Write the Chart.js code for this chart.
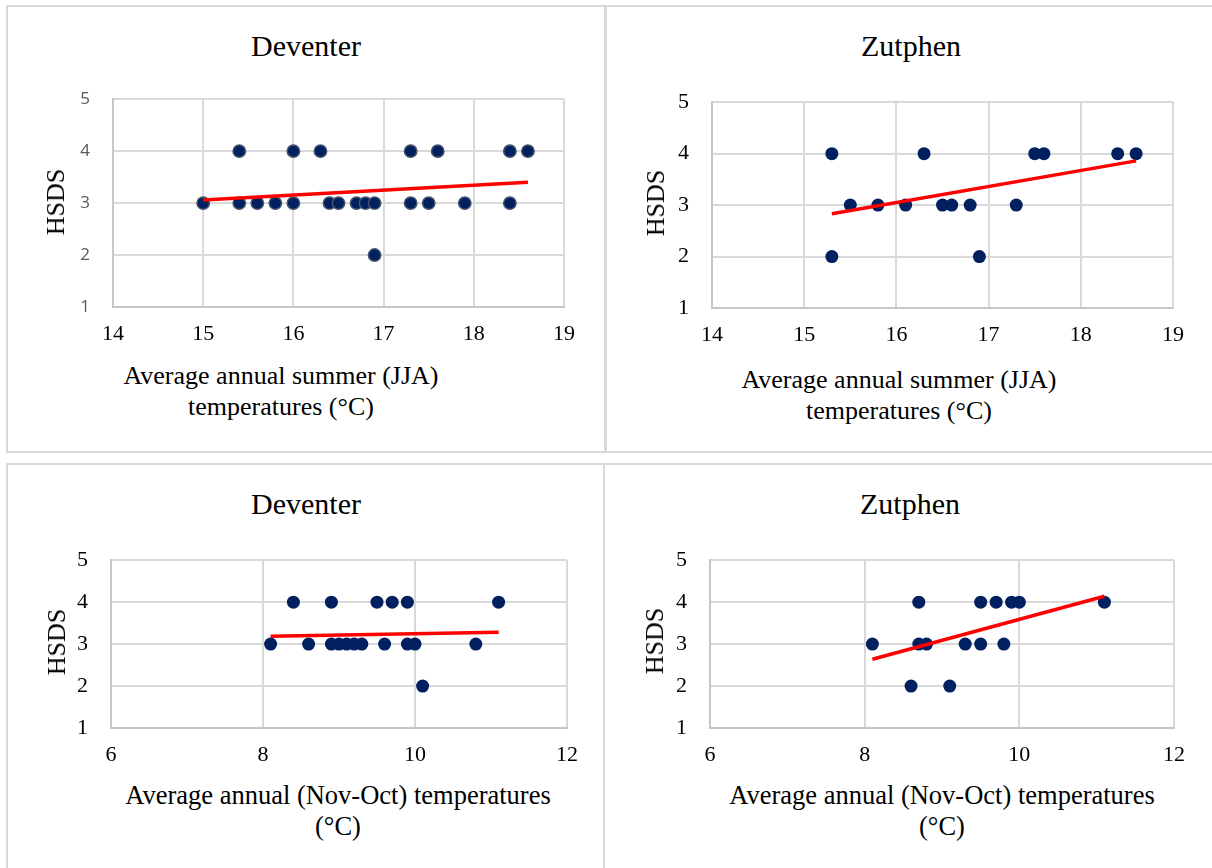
<!DOCTYPE html>
<html>
<head>
<meta charset="utf-8">
<script src="https://cdn.jsdelivr.net/npm/chart.js@4.4.1/dist/chart.umd.min.js"></script>
<style>
  body { margin: 0; background: #fff; width: 1212px; height: 868px; overflow: hidden; position: relative;
         font-family: "Liberation Serif", "Times New Roman", serif; }
  .panel { position: absolute; border: 2px solid #d9d9d9; box-sizing: border-box; }
  canvas { position: absolute; }
  .t { position: absolute; white-space: nowrap; color: #000; line-height: 1; transform: translate(-50%, -50%); }
  .title { font-size: 30px; }
  .xt { font-size: 26px; line-height: 31px; text-align: center; }
  .xt2 { font-size: 26.5px; line-height: 31px; text-align: center; }
  .yt { font-size: 26px; transform: translate(-50%, -50%) rotate(-90deg); }
</style>
</head>
<body>

<div class="panel" style="left:6px;top:5px;width:600px;height:448px"></div>
<div class="panel" style="left:605px;top:5px;width:620px;height:448px"></div>
<div class="panel" style="left:6px;top:463px;width:599px;height:420px"></div>
<div class="panel" style="left:603px;top:463px;width:620px;height:420px"></div>

<canvas id="c1"></canvas>
<canvas id="c2"></canvas>
<canvas id="c3"></canvas>
<canvas id="c4"></canvas>

<div class="t title" style="left:306px;top:46px">Deventer</div>
<div class="t title" style="left:911px;top:46px">Zutphen</div>
<div class="t title" style="left:306px;top:504px">Deventer</div>
<div class="t title" style="left:910px;top:504px">Zutphen</div>

<div class="t yt" style="left:56px;top:202px">HSDS</div>
<div class="t yt" style="left:656px;top:203px">HSDS</div>
<div class="t yt" style="left:57px;top:642px">HSDS</div>
<div class="t yt" style="left:655px;top:641px">HSDS</div>

<div class="t xt" style="left:281px;top:391px">Average annual summer (JJA)<br>temperatures (°C)</div>
<div class="t xt" style="left:899px;top:395px">Average annual summer (JJA)<br>temperatures (°C)</div>
<div class="t xt2" style="left:338px;top:811px">Average annual (Nov-Oct) temperatures<br>(°C)</div>
<div class="t xt2" style="left:942px;top:811px">Average annual (Nov-Oct) temperatures<br>(°C)</div>

<script>
// Deventer, summer (JJA) temperature vs HSDS
const devSummerTemp = [15.4, 16.0, 16.3, 17.3, 17.6, 18.4, 18.6,
  15.0, 15.4, 15.6, 15.8, 16.0, 16.4, 16.5, 16.7, 16.8, 16.9, 17.3, 17.5, 17.9, 18.4,
  16.9];
const devSummerHsds = [4, 4, 4, 4, 4, 4, 4,
  3, 3, 3, 3, 3, 3, 3, 3, 3, 3, 3, 3, 3, 3,
  2];
const devSummerTrendX = [15.0, 18.6];
const devSummerTrendY = [3.06, 3.40];

// Zutphen, summer (JJA)
const zutSummerTemp = [15.3, 16.3, 17.5, 17.6, 18.4, 18.6,
  15.5, 15.8, 16.1, 16.5, 16.6, 16.8, 17.3,
  15.3, 16.9];
const zutSummerHsds = [4, 4, 4, 4, 4, 4,
  3, 3, 3, 3, 3, 3, 3,
  2, 2];
const zutSummerTrendX = [15.3, 18.6];
const zutSummerTrendY = [2.83, 3.86];

// Deventer, annual (Nov-Oct)
const devAnnualTemp = [8.4, 8.9, 9.5, 9.7, 9.9, 11.1,
  8.1, 8.6, 8.9, 9.0, 9.1, 9.2, 9.3, 9.6, 9.9, 10.0, 10.8,
  10.1];
const devAnnualHsds = [4, 4, 4, 4, 4, 4,
  3, 3, 3, 3, 3, 3, 3, 3, 3, 3, 3,
  2];
const devAnnualTrendX = [8.1, 11.1];
const devAnnualTrendY = [3.19, 3.28];

// Zutphen, annual (Nov-Oct)
const zutAnnualTemp = [8.7, 9.5, 9.7, 9.9, 10.0, 11.1,
  8.1, 8.7, 8.8, 9.3, 9.5, 9.8,
  8.6, 9.1];
const zutAnnualHsds = [4, 4, 4, 4, 4, 4,
  3, 3, 3, 3, 3, 3,
  2, 2];
const zutAnnualTrendX = [8.1, 11.1];
const zutAnnualTrendY = [2.64, 4.14];

const hsdsTicks = [1, 2, 3, 4, 5];
const summerTicks = [14, 15, 16, 17, 18, 19];
const annualTicks = [6, 8, 10, 12];

const navy = "#002060";

Chart.defaults.font.family = "'Liberation Serif', 'Times New Roman', serif";
Chart.defaults.font.size = 22;
Chart.defaults.color = "#000";

function pairs(xs, ys) {
  return xs.map((x, i) => ({ x: x, y: ys[i] }));
}

function drawPanel(id, rect, xTicks, temps, hsds, trendX, trendY, look) {
  const padL = 90, padT = 30, padR = 30, padB = 50;
  const cv = document.getElementById(id);
  const w = rect.r - rect.l + padL + padR;
  const h = rect.b - rect.t + padT + padB;
  cv.width = w; cv.height = h;
  cv.style.left = (rect.l - padL) + "px";
  cv.style.top = (rect.t - padT) + "px";
  cv.style.width = w + "px";
  cv.style.height = h + "px";

  const yTicks = { color: look.yColor, padding: 23 };
  if (look.yFont) yTicks.font = look.yFont;

  new Chart(cv.getContext("2d"), {
    type: "scatter",
    data: {
      datasets: [
        {
          type: "line",
          data: pairs(trendX, trendY),
          borderColor: "#ff0000",
          borderWidth: 3.5,
          pointRadius: 0,
          fill: false
        },
        {
          data: pairs(temps, hsds),
          backgroundColor: navy,
          borderColor: look.pointBorder,
          borderWidth: look.pointBorderWidth,
          pointRadius: look.radius
        }
      ]
    },
    options: {
      responsive: false,
      animation: false,
      layout: { padding: { top: padT, right: padR, left: 0, bottom: 0 } },
      plugins: { legend: { display: false }, tooltip: { enabled: false } },
      scales: {
        x: {
          type: "linear",
          min: xTicks[0],
          max: xTicks[xTicks.length - 1],
          afterBuildTicks: s => { s.ticks = xTicks.map(v => ({ value: v })); },
          afterFit: s => { s.height = padB; },
          grid: { color: "#d9d9d9", lineWidth: 2, drawTicks: false },
          border: { color: "#c6c6c6", width: 2 },
          ticks: { color: "#000", padding: 14 }
        },
        y: {
          type: "linear",
          min: 1,
          max: 5,
          afterBuildTicks: s => { s.ticks = hsdsTicks.map(v => ({ value: v })); },
          afterFit: s => { s.width = padL; },
          grid: { color: "#d9d9d9", lineWidth: 2, drawTicks: false },
          border: { color: "#c6c6c6", width: 2 },
          ticks: yTicks
        }
      }
    }
  });
}

drawPanel("c1", { l: 113, r: 564, t: 96, b: 307 }, summerTicks, devSummerTemp, devSummerHsds,
  devSummerTrendX, devSummerTrendY,
  { pointBorder: "#44546a", pointBorderWidth: 1.5, radius: 6.2,
    yFont: { family: "'Open Sans', sans-serif", size: 17 }, yColor: "#595959" });

drawPanel("c2", { l: 712, r: 1173, t: 96, b: 308 }, summerTicks, zutSummerTemp, zutSummerHsds,
  zutSummerTrendX, zutSummerTrendY,
  { pointBorder: navy, pointBorderWidth: 0, radius: 6.5, yColor: "#000" });

drawPanel("c3", { l: 111, r: 567, t: 554, b: 728 }, annualTicks, devAnnualTemp, devAnnualHsds,
  devAnnualTrendX, devAnnualTrendY,
  { pointBorder: navy, pointBorderWidth: 0, radius: 6.5, yColor: "#000" });

drawPanel("c4", { l: 710, r: 1174, t: 554, b: 728 }, annualTicks, zutAnnualTemp, zutAnnualHsds,
  zutAnnualTrendX, zutAnnualTrendY,
  { pointBorder: navy, pointBorderWidth: 0, radius: 6.5, yColor: "#000" });
</script>
</body>
</html>
